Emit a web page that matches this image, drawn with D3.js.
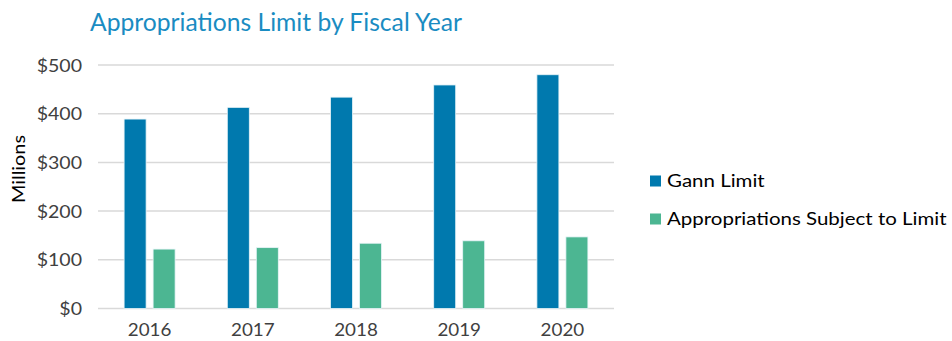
<!DOCTYPE html>
<html><head><meta charset="utf-8">
<script src="https://cdn.jsdelivr.net/npm/d3@7"></script>
<style>body{margin:0;background:#fff;}svg{display:block;font-family:Lato,"Open Sans",sans-serif;}</style>
</head><body>
<svg id="chart" width="952" height="341"></svg>
<script>
const years = ["2016","2017","2018","2019","2020"];
const gannLimit = [389, 413, 434, 459, 480];
const appropriations = [122, 125, 134, 139, 147];
const seriesNames = ["Gann Limit", "Appropriations Subject to Limit"];
const seriesColors = ["#0079AE", "#4CB692"];
const yTicks = [0, 100, 200, 300, 400, 500];

const svg = d3.select("#chart");
const m = {left: 98, right: 614, top: 65, bottom: 308.5};

// widen glyphs horizontally (reference font is wider than available ones)
function stretch(sel, f) {
  sel.each(function () {
    const w = this.getComputedTextLength();
    d3.select(this).attr("textLength", w * f).attr("lengthAdjust", "spacingAndGlyphs");
  });
}

const x = d3.scaleBand().domain(years).range([m.left, m.right]).paddingInner(0).paddingOuter(0);
const y = d3.scaleLinear().domain([0, 500]).range([m.bottom, m.top]);

// gridlines
svg.append("g").selectAll("line").data(yTicks).join("line")
  .attr("x1", m.left).attr("x2", m.right)
  .attr("y1", d => y(d)).attr("y2", d => y(d))
  .attr("stroke", "#d9d9d9").attr("stroke-width", 1.5);

// y axis
const yAxis = d3.axisLeft(y).tickValues(yTicks).tickSize(0).tickPadding(0).tickFormat(d => "$" + d);
const ya = svg.append("g").attr("transform", `translate(${m.left - 16},0)`).call(yAxis);
ya.select(".domain").remove();
ya.selectAll("text").attr("font-size", 17).attr("fill", "#404040").attr("dy", "0.36em")
  .attr("font-family", "Lato, 'Open Sans', sans-serif");
stretch(ya.selectAll("text"), 1.15);

// x axis
const xAxis = d3.axisBottom(x).tickSize(0).tickPadding(0);
const xa = svg.append("g").attr("transform", `translate(0,${m.bottom + 16})`).call(xAxis);
xa.select(".domain").remove();
xa.selectAll("text").attr("font-size", 16.5).attr("fill", "#404040")
  .attr("font-family", "Lato, 'Open Sans', sans-serif");
stretch(xa.selectAll("text"), 1.14);

// bars
const barW = 22, gap = 7;
const data = years.map((yr, i) => ({yr, vals: [gannLimit[i], appropriations[i]]}));
const grp = svg.append("g").selectAll("g").data(data).join("g")
  .attr("transform", d => `translate(${x(d.yr) + x.bandwidth() / 2},0)`);
grp.selectAll("rect").data(d => d.vals.map((v, j) => ({v, j}))).join("rect")
  .attr("x", d => d.j === 0 ? -gap / 2 - barW : gap / 2)
  .attr("width", barW)
  .attr("y", d => y(d.v))
  .attr("height", d => y(0) - y(d.v))
  .attr("fill", d => seriesColors[d.j])
  .attr("stroke", "#e8f4f8").attr("stroke-width", 0.8);

// title
svg.append("text").attr("x", 90).attr("y", 30.5)
  .attr("font-size", 25).attr("fill", "#1A8CC2")
  .attr("textLength", 372).attr("lengthAdjust", "spacingAndGlyphs")
  .text("Appropriations Limit by Fiscal Year");

// y label
const yl = svg.append("text").attr("transform", "translate(25,169) rotate(-90)")
  .attr("text-anchor", "middle").attr("font-size", 18).attr("fill", "#000")
  .text("Millions");
stretch(yl, 1.1);

// legend
const lg = svg.append("g").selectAll("g").data(seriesNames).join("g")
  .attr("transform", (d, i) => `translate(650,${175.5 + i * 38})`);
lg.append("rect").attr("width", 11).attr("height", 11).attr("fill", (d, i) => seriesColors[i]);
const lt = lg.append("text").attr("x", 17).attr("y", 11.5).attr("font-size", 17.5).attr("fill", "#000")
  .text(d => d);
stretch(lt, 1.17);
</script>
</body></html>
